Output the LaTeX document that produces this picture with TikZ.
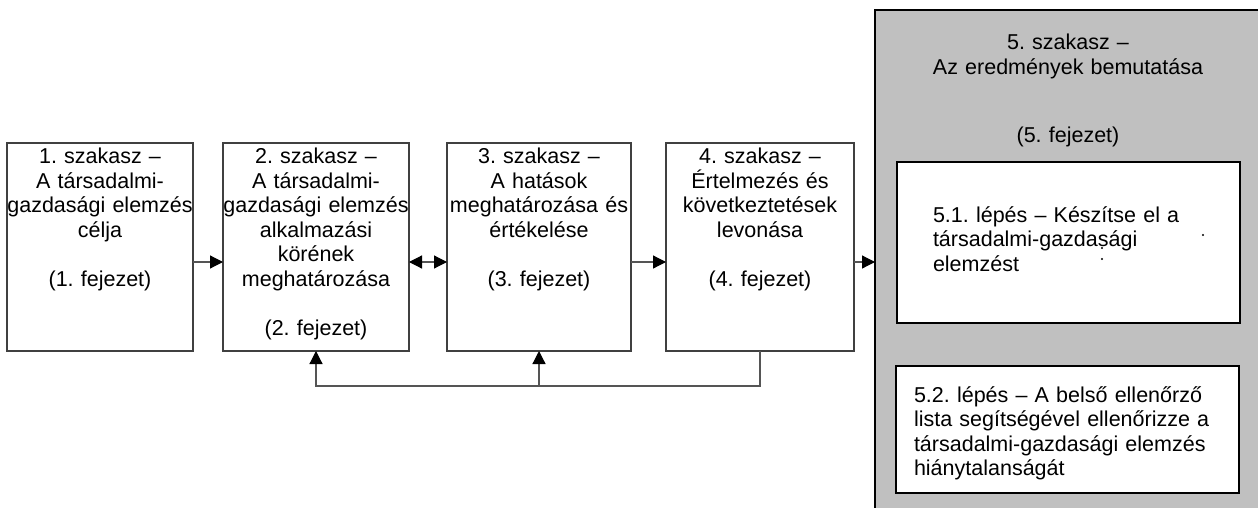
\documentclass[tikz,border=0pt]{standalone}
\usepackage{fontspec}
\setmainfont{Liberation Sans}
\usetikzlibrary{arrows.meta}
\definecolor{panelgray}{HTML}{C0C0C0}
\definecolor{boxline}{HTML}{404040}
\definecolor{wire}{HTML}{555555}
\frenchspacing

\begin{document}
\begin{tikzpicture}[x=1pt,y=-1pt,
  txt/.style={font=\fontsize{21.5}{24.5}\selectfont, inner sep=0pt, outer sep=0pt},
  stage/.style={draw=boxline, line width=1.2pt, fill=white, rectangle,
                inner sep=0pt, outer sep=0pt, anchor=north west},
  flow/.style={draw=wire, line width=1.2pt,
               -{Triangle[length=13pt,width=13pt,color=black]}},
  both/.style={draw=wire, line width=1.2pt,
               {Triangle[length=13pt,width=13pt,color=black]}-{Triangle[length=13pt,width=13pt,color=black]}}
]
\useasboundingbox (0,0) rectangle (1258,508);
\clip (0,0) rectangle (1258,508);
\fill[white] (0,0) rectangle (1258,508);

% stage boxes
\node[stage, minimum width=186, minimum height=208] (b1) at (7,143) {};
\node[stage, minimum width=186, minimum height=208] (b2) at (223,143) {};
\node[stage, minimum width=184, minimum height=208] (b3) at (447,143) {};
\node[stage, minimum width=188, minimum height=208] (b4) at (666,143) {};

% stage 5 panel with its two steps
\node[stage, draw=black, fill=panelgray, minimum width=387, minimum height=510] (g) at (875,10) {};
\node[stage, draw=black, minimum width=343, minimum height=161] (s1) at (897,162) {};
\node[stage, draw=black, minimum width=343, minimum height=127] (s2) at (896,366) {};

% stage texts
\node[txt, text width=230, align=center, anchor=base] (t1) at (100,164)
  {1. szakasz –\\A társadalmi-\\gazdasági elemzés\\célja\\[24.5pt](1. fejezet)};
\node[txt, text width=230, align=center, anchor=base] (t2) at (316,164)
  {2. szakasz –\\A társadalmi-\\gazdasági elemzés\\alkalmazási\\körének\\meghatározása\\[24.5pt](2. fejezet)};
\node[txt, text width=230, align=center, anchor=base] (t3) at (539,164)
  {3. szakasz –\\A hatások\\meghatározása és\\értékelése\\[24.5pt](3. fejezet)};
\node[txt, text width=230, align=center, anchor=base] (t4) at (760,164)
  {4. szakasz –\\Értelmezés és\\következtetések\\levonása\\[24.5pt](4. fejezet)};
\node[txt, text width=340, align=center, anchor=base] (t5) at (1068,50)
  {5. szakasz –\\Az eredmények bemutatása\\[43.5pt](5. fejezet)};
\node[txt, text width=300, align=left, anchor=base west] (ts1) at (933,222)
  {5.1. lépés – Készítse el a\\társadalmi-gazdasági\\elemzést};
\node[txt, text width=330, align=left, anchor=base west] (ts2) at (914,402)
  {5.2. lépés – A belső ellenőrző\\lista segítségével ellenőrizze a\\társadalmi-gazdasági elemzés\\hiánytalanságát};

% stray dots inside step 5.1
\fill (1203,235) circle (1.1);
\fill (1102,248) circle (1.1);
\fill (1102,259) circle (1.1);

% forward connectors
\draw[flow] ([yshift=-15pt]b1.east) coordinate (a1) -- (a1 -| b2.west);
\draw[both] ([yshift=-15pt]b2.east) coordinate (a2) -- (a2 -| b3.west);
\draw[flow] ([yshift=-15pt]b3.east) coordinate (a3) -- (a3 -| b4.west);
\draw[flow] ([yshift=-15pt]b4.east) coordinate (a4) -- (a4 -| g.west);

% feedback loop from stage 4
\draw[flow] (b4.south) -- ++(0,35) coordinate (fb) -| (b2.south);
\draw[flow] (fb -| b3.south) -- (b3.south);
\end{tikzpicture}
\end{document}
